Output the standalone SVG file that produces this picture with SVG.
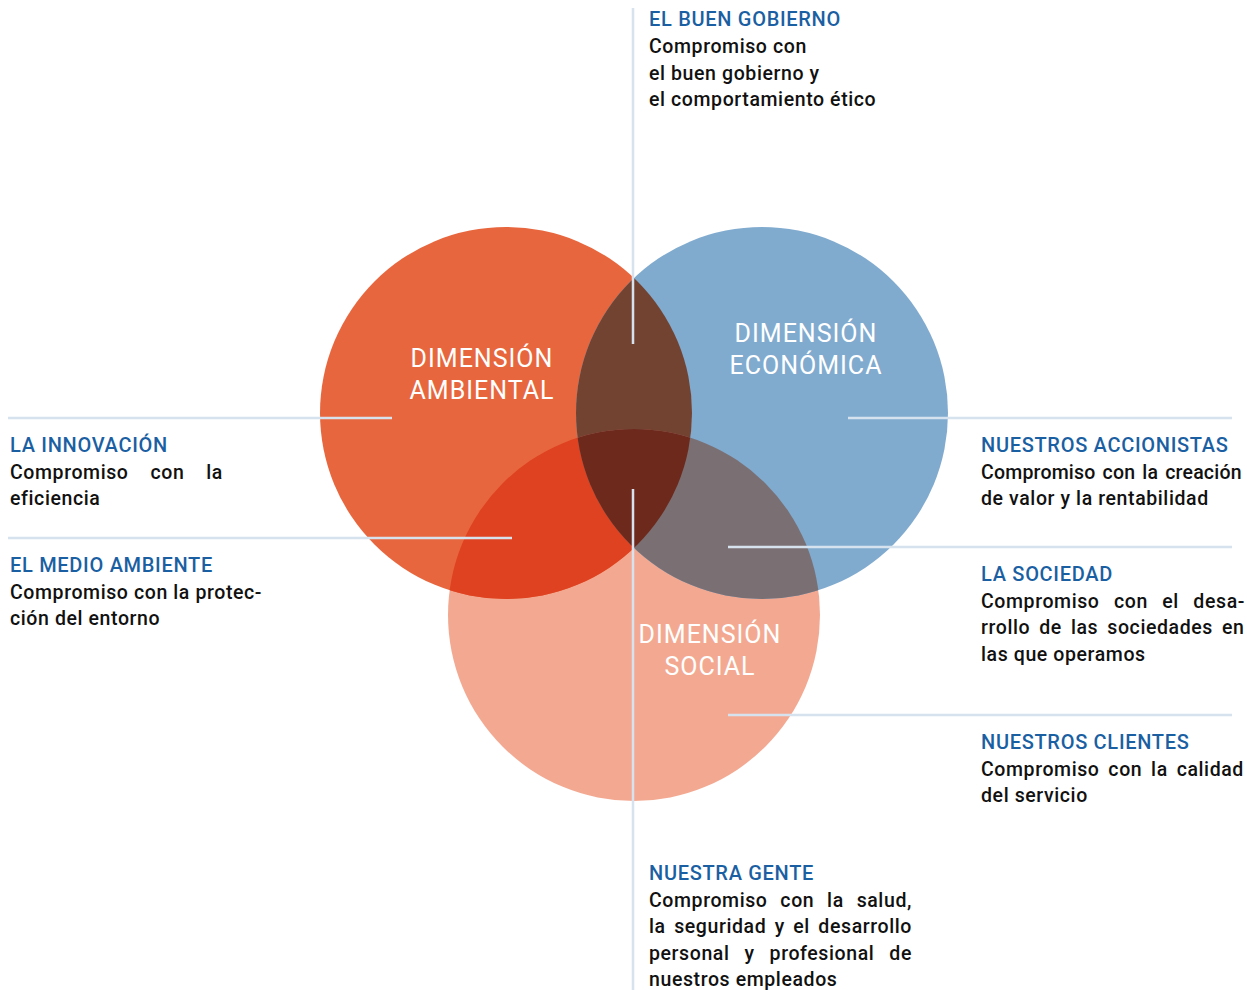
<svg xmlns="http://www.w3.org/2000/svg" width="1247" height="990" viewBox="0 0 1247 990">
<style>
.h{font-family:Roboto,"Liberation Sans",sans-serif;font-size:20px;font-weight:500;fill:#1b5fa3;letter-spacing:0.7px}
.b{font-family:Roboto,"Liberation Sans",sans-serif;font-size:19.5px;font-weight:500;fill:#111;letter-spacing:0.6px}
.c{font-family:Roboto,"Liberation Sans",sans-serif;font-size:25px;fill:#fff;text-anchor:middle;letter-spacing:1px}
.ln{stroke:#d6e3ef;stroke-width:2.5;fill:none}
</style>
<defs>
<clipPath id="cA"><circle cx="506" cy="413" r="186"/></clipPath>
<clipPath id="cE"><circle cx="762" cy="413" r="186"/></clipPath>
</defs>
<rect width="1247" height="990" fill="#fff"/>
<g id="circle-social"><circle cx="634" cy="615" r="186" fill="#f3a991"/></g>
<g id="circle-ambiental"><circle cx="506" cy="413" r="186" fill="#e8663d"/></g>
<g id="circle-economica"><circle cx="762" cy="413" r="186" fill="#80abcf"/></g>
<g id="overlaps">
<circle cx="762" cy="413" r="186" fill="#734331" clip-path="url(#cA)"/>
<circle cx="634" cy="615" r="186" fill="#de4221" clip-path="url(#cA)"/>
<circle cx="634" cy="615" r="186" fill="#7a7074" clip-path="url(#cE)"/>
<g clip-path="url(#cA)"><circle cx="634" cy="615" r="186" fill="#6d2a1c" clip-path="url(#cE)"/></g>
</g>
<g id="connectors">
<line class="ln" x1="633" y1="8" x2="633" y2="344"/>
<line class="ln" x1="633" y1="489" x2="633" y2="990"/>
<line class="ln" x1="8" y1="418" x2="392" y2="418"/>
<line class="ln" x1="8" y1="538" x2="512" y2="538"/>
<line class="ln" x1="848" y1="418" x2="1232" y2="418"/>
<line class="ln" x1="728" y1="547" x2="1232" y2="547"/>
<line class="ln" x1="728" y1="715" x2="1232" y2="715"/>
</g>
<g id="label-ambiental"><text class="c" x="482" y="367">DIMENSIÓN</text><text class="c" x="482" y="399">AMBIENTAL</text></g>
<g id="label-economica"><text class="c" x="806" y="342">DIMENSIÓN</text><text class="c" x="806" y="374">ECONÓMICA</text></g>
<g id="label-social"><text class="c" x="710" y="643">DIMENSIÓN</text><text class="c" x="710" y="675">SOCIAL</text></g>
<g id="buen-gobierno">
<text class="h" x="649" y="26">EL BUEN GOBIERNO</text>
<text class="b" x="649" y="53">Compromiso con</text>
<text class="b" x="649" y="80">el buen gobierno y</text>
<text class="b" x="649" y="106">el comportamiento ético</text>
</g>
<g id="innovacion">
<text class="h" x="10" y="452">LA INNOVACIÓN</text>
<text class="b" x="10" y="479" style="word-spacing:16.5px">Compromiso con la</text>
<text class="b" x="10" y="505">eficiencia</text>
</g>
<g id="medio-ambiente">
<text class="h" x="10" y="572">EL MEDIO AMBIENTE</text>
<text class="b" x="10" y="599">Compromiso con la protec-</text>
<text class="b" x="10" y="625">ción del entorno</text>
</g>
<g id="accionistas">
<text class="h" x="981" y="452">NUESTROS ACCIONISTAS</text>
<text class="b" x="981" y="479" style="letter-spacing:0.2px;word-spacing:2px">Compromiso con la creación</text>
<text class="b" x="981" y="505">de valor y la rentabilidad</text>
</g>
<g id="sociedad">
<text class="h" x="981" y="581">LA SOCIEDAD</text>
<text class="b" x="981" y="608" style="word-spacing:9px">Compromiso con el desa-</text>
<text class="b" x="981" y="634" style="word-spacing:3.6px">rrollo de las sociedades en</text>
<text class="b" x="981" y="661">las que operamos</text>
</g>
<g id="clientes">
<text class="h" x="981" y="749">NUESTROS CLIENTES</text>
<text class="b" x="981" y="776" style="word-spacing:3.4px">Compromiso con la calidad</text>
<text class="b" x="981" y="802">del servicio</text>
</g>
<g id="gente">
<text class="h" x="649" y="880">NUESTRA GENTE</text>
<text class="b" x="649" y="907" style="word-spacing:7.4px">Compromiso con la salud,</text>
<text class="b" x="649" y="933" style="word-spacing:3px">la seguridad y el desarrollo</text>
<text class="b" x="649" y="960" style="word-spacing:9.5px">personal y profesional de</text>
<text class="b" x="649" y="986">nuestros empleados</text>
</g>
</svg>
